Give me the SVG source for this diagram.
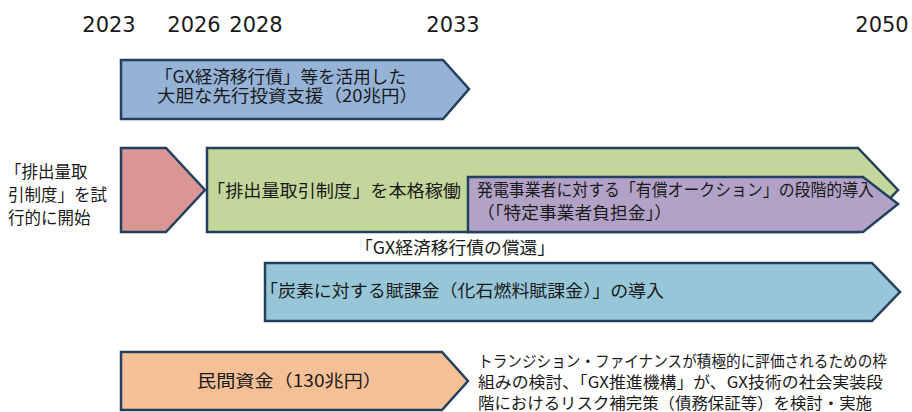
<svg xmlns="http://www.w3.org/2000/svg" width="912" height="412" viewBox="0 0 912 412">
<style>
.yr{font-family:"DejaVu Sans","Liberation Sans",sans-serif;font-size:21px;fill:#1a1a1a;text-anchor:middle}
.jp{font-family:"Noto Sans CJK JP","Noto Sans",sans-serif;fill:#1a1a1a}
.s17{font-size:17px}
.s16{font-size:16px}
.shape{stroke:#23405f;stroke-width:2.5;stroke-linejoin:miter}
</style>
<rect width="912" height="412" fill="#ffffff"/>
<g id="years">
<text class="yr" x="109" y="32">2023</text>
<text class="yr" x="194" y="32">2026</text>
<text class="yr" x="256" y="32">2028</text>
<text class="yr" x="453" y="32">2033</text>
<text class="yr" x="882" y="32">2050</text>
</g>
<g id="gx-bond">
<polygon class="shape" fill="#95b3d7" points="121,60 443,60 469,89 443,119 121,119"/>
<text class="jp s17" x="155" y="83" textLength="251" lengthAdjust="spacingAndGlyphs">「GX経済移行債」等を活用した</text>
<text class="jp s17" x="157" y="102" textLength="261" lengthAdjust="spacingAndGlyphs">大胆な先行投資支援（20兆円）</text>
</g>
<g id="trial-label">
<text class="jp" font-size="16.5" x="5" y="178">「排出量取</text>
<text class="jp" font-size="16.5" x="8" y="201" textLength="99" lengthAdjust="spacingAndGlyphs">引制度」を試</text>
<text class="jp" font-size="16.5" x="8" y="224">行的に開始</text>
</g>
<g id="trial">
<polygon class="shape" fill="#d99694" points="121,148 166,148 205,190 166,232 121,232"/>
</g>
<g id="ets">
<polygon class="shape" fill="#c3d69b" points="207,148 858,148 898,190 858,232 207,232"/>
<text class="jp s17" x="207" y="197" textLength="254" lengthAdjust="spacingAndGlyphs">「排出量取引制度」を本格稼働</text>
</g>
<g id="auction">
<polygon class="shape" fill="#b3a2c7" points="468,177 863,177 898,204 863,232 468,232"/>
<text class="jp s17" x="477" y="196" textLength="397" lengthAdjust="spacingAndGlyphs">発電事業者に対する「有償オークション」の段階的導入</text>
<text class="jp s17" x="477" y="219" textLength="195" lengthAdjust="spacingAndGlyphs">（「特定事業者負担金」）</text>
</g>
<g id="redemption">
<text class="jp s17" x="355" y="254" textLength="200" lengthAdjust="spacingAndGlyphs">「GX経済移行債の償還」</text>
</g>
<g id="levy">
<polygon class="shape" fill="#96c6d7" points="265,263 872,263 900,292 872,321 265,321"/>
<text class="jp s17" x="260" y="297" textLength="404" lengthAdjust="spacingAndGlyphs">「炭素に対する賦課金（化石燃料賦課金）」の導入</text>
</g>
<g id="private">
<polygon class="shape" fill="#f5c095" points="121,352 442,352 468,381 442,410 121,410"/>
<text class="jp s17" x="197" y="387" textLength="185" lengthAdjust="spacingAndGlyphs">民間資金（130兆円）</text>
</g>
<g id="finance-note">
<text class="jp s16" x="478" y="367" textLength="409" lengthAdjust="spacingAndGlyphs">トランジション・ファイナンスが積極的に評価されるための枠</text>
<text class="jp s16" x="478" y="388" textLength="405" lengthAdjust="spacingAndGlyphs">組みの検討、「GX推進機構」が、GX技術の社会実装段</text>
<text class="jp s16" x="478" y="408.5" textLength="394" lengthAdjust="spacingAndGlyphs">階におけるリスク補完策（債務保証等）を検討・実施</text>
</g>
<g id="connectors"/>
</svg>
